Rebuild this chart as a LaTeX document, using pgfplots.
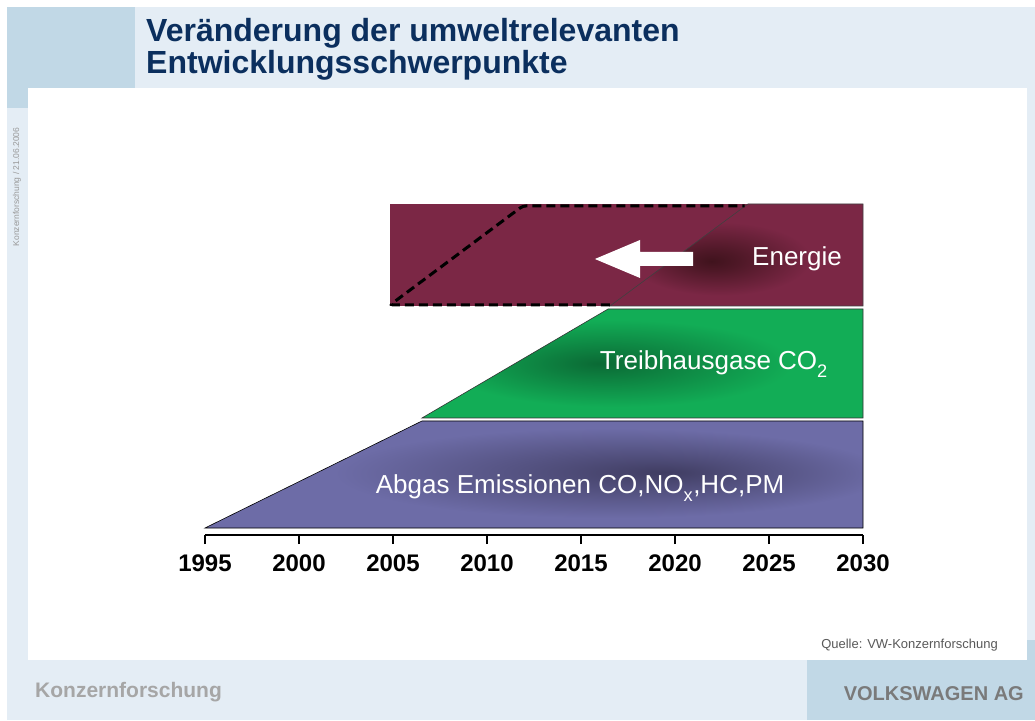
\documentclass[border=0pt]{standalone}
\usepackage{fontspec}
\setmainfont{Liberation Sans}
\usepackage{pgfplots}
\pgfplotsset{compat=1.18}

\definecolor{hdrlight}{HTML}{E4EDF5}
\definecolor{hdrdark}{HTML}{C1D8E6}
\definecolor{titleblue}{HTML}{0B2F5E}
\definecolor{absbase}{HTML}{6D6CA7}
\definecolor{absdark}{HTML}{403D62}
\definecolor{grbase}{HTML}{12AD56}
\definecolor{grdark}{HTML}{0B6A35}
\definecolor{enbase}{HTML}{7B2745}
\definecolor{endark}{HTML}{40131D}

\pgfdeclareradialshading{glowA}{\pgfpoint{10bp}{1bp}}{color(0bp)=(absdark); color(6bp)=(absdark!70!absbase); color(21bp)=(absbase); color(50bp)=(absbase)}
\pgfdeclareradialshading{glowG}{\pgfpoint{-5bp}{0bp}}{color(0bp)=(grdark); color(6bp)=(grdark!70!grbase); color(20bp)=(grbase); color(50bp)=(grbase)}
\pgfdeclareradialshading{glowE}{\pgfpoint{-5bp}{-3bp}}{color(0bp)=(endark); color(5bp)=(endark!75!enbase); color(18bp)=(enbase); color(50bp)=(enbase)}

\begin{document}
\begin{tikzpicture}[x=1pt,y=1pt]
% background layout
\fill[white] (0,0) rectangle (1035,720);
\fill[hdrlight] (135,632) rectangle (1035,713);
\fill[hdrdark] (7,632) rectangle (135,713);
\fill[hdrdark] (7,612) rectangle (28,632);
\fill[hdrlight] (7,60) rectangle (28,612);
\fill[hdrlight] (1027,80) rectangle (1035,632);
\fill[hdrlight] (7,0) rectangle (807,60);
\fill[hdrdark] (807,0) rectangle (1035,60);
\fill[hdrdark] (1027,60) rectangle (1035,80);

% title
\node[anchor=base west, text=titleblue, font=\bfseries\fontsize{32}{34}\selectfont, inner sep=0pt] at (146,678) {Veränderung der umweltrelevanten};
\node[anchor=base west, text=titleblue, font=\bfseries\fontsize{32}{34}\selectfont, inner sep=0pt] at (146,646) {Entwicklungsschwerpunkte};

% side text
\node[rotate=90, text=black!40, font=\fontsize{8.5}{8.5}\selectfont, inner sep=0pt] at (17,533) {Konzernforschung / 21.06.2006};

% footer
\node[anchor=base east, text=black!65, font=\fontsize{13}{13}\selectfont, inner sep=0pt] at (998,72) {Quelle: VW-Konzernforschung};
\node[anchor=base west, text=black!35, font=\bfseries\fontsize{21}{21}\selectfont, inner sep=0pt] at (35,23) {Konzernforschung};
\node[anchor=base east, text=black!52, font=\bfseries\fontsize{20}{20}\selectfont, inner sep=0pt] at (1024,20) {VOLKSWAGEN AG};

\begin{axis}[
  at={(205pt,185pt)}, anchor=south west,
  scale only axis, width=658pt, height=350pt,
  xmin=1995, xmax=2030, ymin=0, ymax=350,
  clip=false,
  hide y axis,
  axis x line*=bottom,
  x axis line style={-, line width=2.5pt},
  xtick={1995,2000,...,2030},
  minor xtick={},
  tick align=outside,
  major tick length=9pt,
  tick style={black, line width=1.2pt},
  xticklabel style={font=\bfseries\fontsize{24}{24}\selectfont, inner sep=0pt, yshift=-11pt},
  /pgf/number format/1000 sep={},
  /pgf/number format/assume math mode=true,
]
% Abgas Emissionen
\addplot[shade, shading=glowA, draw=black, line width=0.6pt] coordinates {(1995,7) (2006.54,114) (2030,114) (2030,7)} -- cycle;
% Treibhausgase
\addplot[shade, shading=glowG, draw=black!80, line width=0.6pt] coordinates {(2006.54,117) (2016.44,226) (2030,226) (2030,117)} -- cycle;
% Energie (old extent)
\addplot[fill=enbase, draw=none] coordinates {(2004.84,229) (2004.84,331) (2030,331) (2030,229)} -- cycle;
% Energie (current)
\addplot[shade, shading=glowE, draw=black!75, line width=0.6pt] coordinates {(2016.54,229) (2023.88,331) (2030,331) (2030,229)} -- cycle;
% dashed shifted outline
\addplot[black, line width=3pt, dash pattern=on 9pt off 5pt, rounded corners=3pt] coordinates {(2016.54,230) (2004.84,230) (2011.9,329) (2023.7,329)};
% arrow
\addplot[fill=white, draw=none] coordinates {(2015.74,276) (2018.14,295) (2018.14,283) (2020.96,283) (2020.96,269) (2018.14,269) (2018.14,257)} -- cycle;

\node[text=white, font=\fontsize{26}{26}\selectfont, inner sep=0pt] at (axis cs:2026.49,276) {Energie};
\node[text=white, font=\fontsize{26}{26}\selectfont, inner sep=0pt] at (axis cs:2022.07,171) {Treibhausgase CO\textsubscript{\raisebox{-0.45ex}{2}}};
\node[text=white, font=\fontsize{26}{26}\selectfont, inner sep=0pt] at (axis cs:2014.95,47) {Abgas Emissionen CO,NO\textsubscript{\raisebox{-0.45ex}{x}},HC,PM};
\end{axis}
\end{tikzpicture}
\end{document}
